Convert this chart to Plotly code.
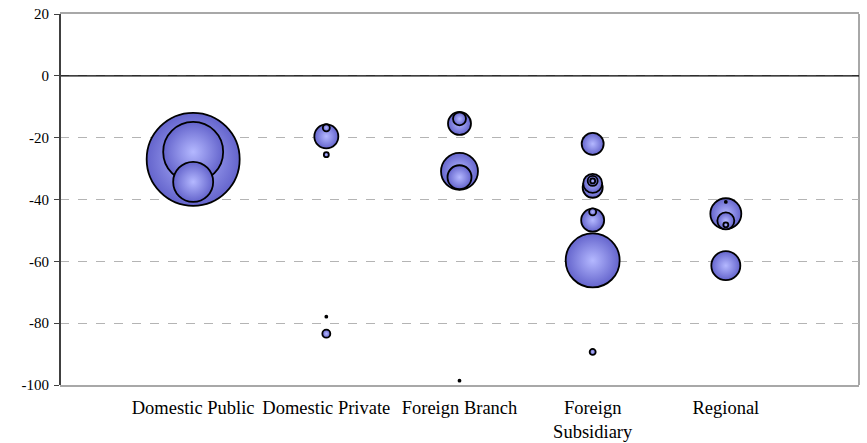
import plotly.graph_objects as go

categories = ["Domestic Public", "Domestic Private", "Foreign Branch", "Foreign Subsidiary", "Regional"]
category_labels = ["Domestic Public", "Domestic Private", "Foreign Branch", "Foreign<br>Subsidiary", "Regional"]

# each bubble: category index (1-based), value (y), bubble size
bubble_cat = [1, 1, 1,
              2, 2, 2, 2, 2,
              3, 3, 3, 3, 3,
              4, 4, 4, 4, 4, 4, 4, 4, 4,
              5, 5, 5, 5, 5]
bubble_y = [-27.0, -24.6, -34.3,
            -19.6, -16.8, -25.5, -77.9, -83.4,
            -15.4, -13.9, -30.9, -32.8, -98.6,
            -22.0, -34.8, -36.2, -34.0, -34.0, -46.7, -44.0, -59.7, -89.3,
            -44.6, -46.9, -48.2, -40.8, -61.4]
bubble_size = [100.0, 41.6, 18.5,
               6.66, 0.57, 0.29, 0.046, 0.74,
               6.12, 1.95, 15.8, 6.66, 0.046,
               5.6, 4.17, 4.62, 1.16, 0.29, 6.12, 0.57, 33.7, 0.42,
               11.1, 3.34, 0.29, 0.046, 9.72]

y_ticks = [20, 0, -20, -40, -60, -80, -100]

order = sorted(range(len(bubble_size)), key=lambda i: -bubble_size[i])
xs = [bubble_cat[i] for i in order]
ys = [bubble_y[i] for i in order]
ss = [bubble_size[i] for i in order]

max_px = 93
serif = "Liberation Serif"
fig = go.Figure()
fig.add_trace(go.Scatter(
    x=xs, y=ys, mode="markers",
    marker=dict(
        size=ss, sizemode="area", sizeref=2 * max(bubble_size) / (max_px ** 2), sizemin=0,
        color="#6464cc", opacity=1,
        gradient=dict(type="radial", color="#b4b8ff"),
        line=dict(color="black", width=1.8),
    ),
    hoverinfo="skip", showlegend=False, cliponaxis=False,
))

# zero line (category axis crossing)
fig.add_shape(type="line", xref="paper", yref="y", x0=0, x1=1, y0=0, y1=0,
              line=dict(color="#000000", width=1.2), layer="above")

fig.update_layout(
    width=867, height=443,
    margin=dict(l=60, r=8, t=14, b=58, autoexpand=False),
    paper_bgcolor="white", plot_bgcolor="white",
    font=dict(family=serif, color="black"),
    showlegend=False,
)
fig.update_xaxes(
    range=[0, 6], tickvals=[1, 2, 3, 4, 5], ticktext=category_labels,
    showgrid=False, zeroline=False, showline=True, mirror=True,
    linecolor="#a8a8a8", linewidth=2, ticks="", tickfont=dict(size=18.5, family=serif, color="black"),
    ticklabelstandoff=5, automargin=False,
)
fig.update_yaxes(
    range=[-100, 20], tickvals=y_ticks, ticktext=[str(v) for v in y_ticks],
    showgrid=True, gridcolor="#b4b4b4", griddash="dash", gridwidth=1,
    zeroline=False, showline=False, automargin=False,
    ticks="outside", ticklen=5, tickcolor="#404040", tickfont=dict(size=15, family=serif, color="black"),
    ticklabelstandoff=2,
)
# left axis line dark, right border gray
fig.add_shape(type="line", xref="paper", yref="paper", x0=0, x1=0, y0=0, y1=1,
              line=dict(color="#404040", width=2), layer="above")
fig.add_shape(type="line", xref="paper", yref="paper", x0=1, x1=1, y0=0, y1=1,
              line=dict(color="#a8a8a8", width=2), layer="below")

fig.write_html("out.html")
